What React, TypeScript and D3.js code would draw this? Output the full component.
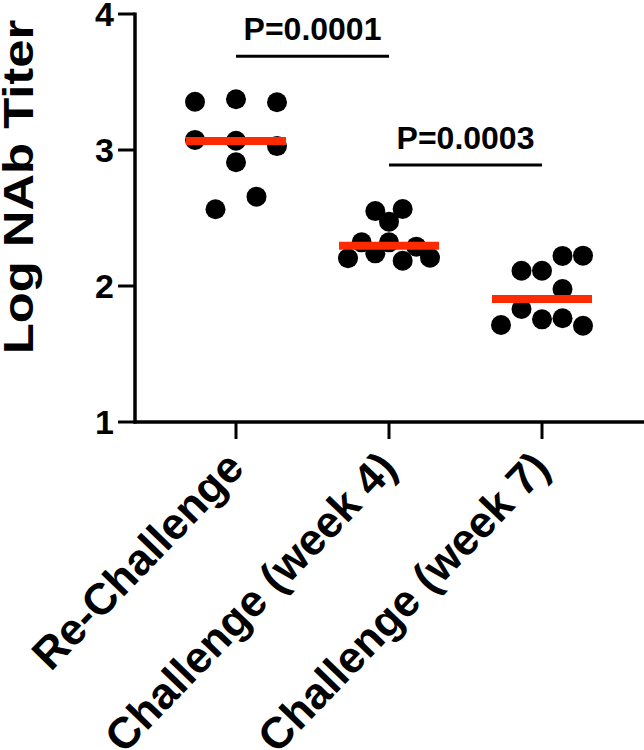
import React from "react";
import * as d3 from "d3";

const categories = ["Re-Challenge", "Challenge (week 4)", "Challenge (week 7)"];
const yTicks = [1, 2, 3, 4];

// values (Log NAb titer) and horizontal jitter (fraction of half-spread) per group
const reChallengeValues = [3.355, 3.373, 3.351, 3.074, 3.068, 3.029, 2.91, 2.657, 2.564];
const reChallengeJitter = [-1, 0, 1, -1, 0, 1, 0, 0.5, -0.5];
const week4Values = [2.551, 2.566, 2.473, 2.321, 2.321, 2.289, 2.204, 2.24, 2.186, 2.208];
const week4Jitter = [-1 / 3, 1 / 3, 0, -2 / 3, 0, 2 / 3, -1, -1 / 3, 1 / 3, 1];
const week7Values = [1.713, 2.112, 1.831, 2.112, 1.755, 2.221, 1.978, 1.763, 2.223, 1.708];
const week7Jitter = [-1, -0.5, -0.5, 0, 0, 0.5, 0.5, 0.5, 1, 1];
const groupMeans = [3.066, 2.296, 1.904];

const comparisons = [
  { from: 0, to: 1, label: "P=0.0001", y: 3.69 },
  { from: 1, to: 2, label: "P=0.0003", y: 2.89 },
];

const groups = [
  { values: reChallengeValues, jitter: reChallengeJitter },
  { values: week4Values, jitter: week4Jitter },
  { values: week7Values, jitter: week7Jitter },
];

const W = 644;
const H = 750;
const axisX = 135;
const axisY = 422;
const FONT = "'Liberation Sans', Arial, Helvetica, sans-serif";

export default function App() {
  const y = d3.scaleLinear().domain([1, 4]).range([axisY, 14]);
  const x = d3
    .scalePoint<string>()
    .domain(categories)
    .range([236, 542]);
  const spread = 41;
  const meanHalf = 50;

  return (
    <svg
      width={W}
      height={H}
      style={{ position: "absolute", left: 0, top: 0, background: "#fff" }}
      fontFamily={FONT}
    >
      {/* y axis */}
      <line x1={axisX} x2={axisX} y1={y(4) - 1.5} y2={axisY + 1.5} stroke="#000" strokeWidth={3.5} />
      {yTicks.map((t) => (
        <g key={t}>
          <line x1={118} x2={axisX} y1={y(t)} y2={y(t)} stroke="#000" strokeWidth={3} />
          <text
            x={114}
            y={y(t)}
            dy="0.36em"
            textAnchor="end"
            fontSize={34}
            fontWeight="bold"
          >
            {t}
          </text>
        </g>
      ))}
      <text
        transform={`translate(${33},${187}) rotate(-90) scale(1.18,1)`}
        textAnchor="middle"
        fontSize={43}
        fontWeight="bold"
      >
        Log NAb Titer
      </text>

      {/* x axis */}
      <line x1={axisX - 1.5} x2={W} y1={axisY} y2={axisY} stroke="#000" strokeWidth={3.5} />
      {categories.map((c) => (
        <g key={c}>
          <line x1={x(c)} x2={x(c)} y1={axisY} y2={axisY + 17} stroke="#000" strokeWidth={3} />
          <text
            transform={`translate(${(x(c) as number) + 10},${axisY + 48}) rotate(-46)`}
            textAnchor="end"
            fontSize={44}
            fontWeight="bold"
          >
            {c}
          </text>
        </g>
      ))}

      {/* dots */}
      {groups.map((g, gi) =>
        g.values.map((v, i) => (
          <circle
            key={`${gi}-${i}`}
            cx={(x(categories[gi]) as number) + g.jitter[i] * spread}
            cy={y(v)}
            r={10}
            fill="#000"
          />
        ))
      )}

      {/* means */}
      {groupMeans.map((m, i) => (
        <line
          key={i}
          x1={(x(categories[i]) as number) - meanHalf}
          x2={(x(categories[i]) as number) + meanHalf}
          y1={y(m)}
          y2={y(m)}
          stroke="#ff2a00"
          strokeWidth={8}
        />
      ))}

      {/* comparisons */}
      {comparisons.map((cmp) => {
        const x1 = x(categories[cmp.from]) as number;
        const x2 = x(categories[cmp.to]) as number;
        return (
          <g key={cmp.label}>
            <line x1={x1} x2={x2} y1={y(cmp.y)} y2={y(cmp.y)} stroke="#000" strokeWidth={3} />
            <text
              x={(x1 + x2) / 2}
              y={y(cmp.y) - 16}
              textAnchor="middle"
              fontSize={32}
              fontWeight="bold"
            >
              {cmp.label}
            </text>
          </g>
        );
      })}
    </svg>
  );
}
